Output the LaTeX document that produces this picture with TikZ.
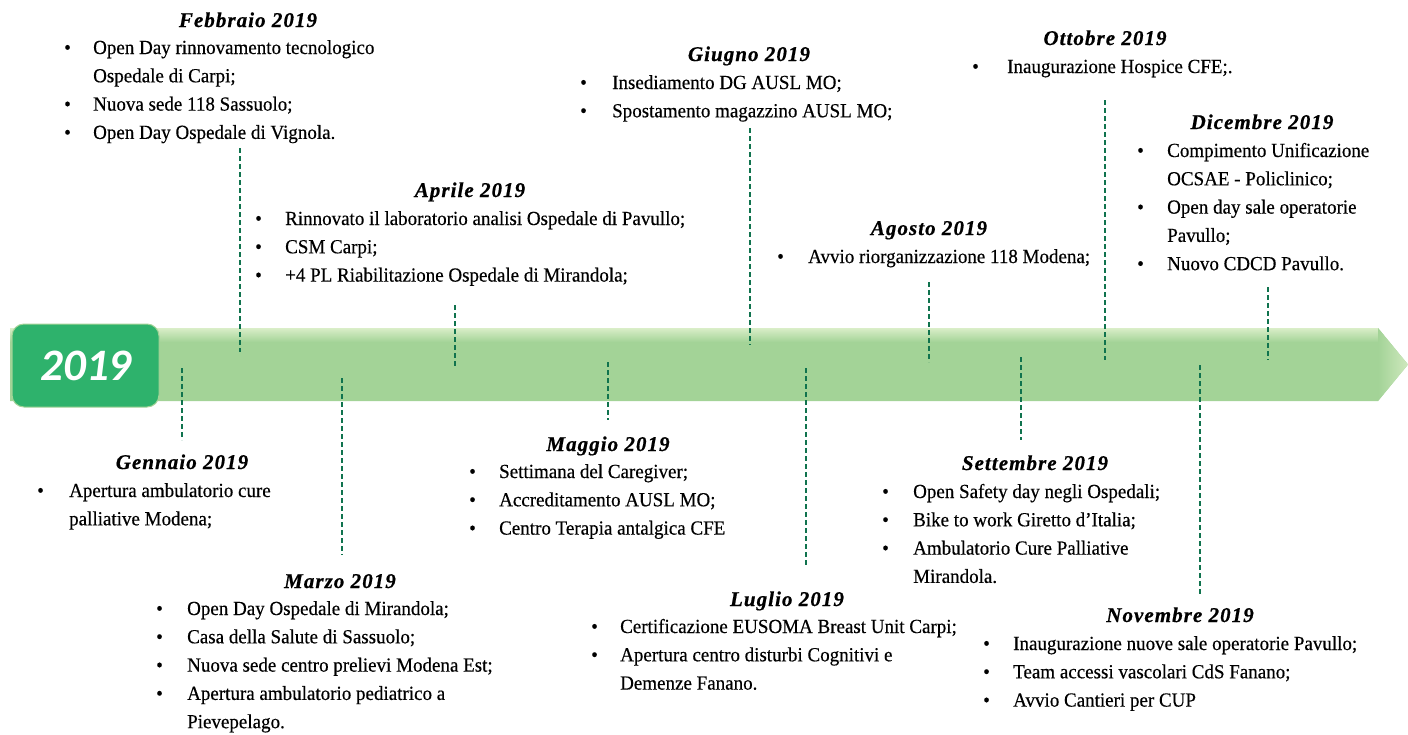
\documentclass[tikz,border=0pt]{standalone}
\usepackage{fontspec}
\setmainfont{Liberation Serif}[FakeStretch=0.95,FakeBold=0.4]
\newfontfamily\titlefont{Liberation Serif}[LetterSpace=5,FakeBold=0.6]
\newfontfamily\yearfont{Carlito}
\usepackage{array}
\definecolor{barmid}{RGB}{163,211,151}
\definecolor{bartop}{RGB}{218,238,200}
\definecolor{yearbox}{RGB}{46,178,108}
\definecolor{dashgreen}{RGB}{16,115,78}
\tikzset{
  monthtitle/.style={anchor=base, inner sep=0pt, font=\titlefont\fontsize{21}{24}\selectfont\bfseries\itshape},
  itemblock/.style={anchor=base west, inner sep=0pt, font=\fontsize{20}{28.3}\selectfont},
  tick/.style={draw=dashgreen, line width=2.4pt, dash pattern=on 5pt off 3pt},
}
\newcommand{\blist}[2]{\begin{tabular}[t]{@{}p{#1pt}@{}l@{}}#2\end{tabular}}
\begin{document}
\begin{tikzpicture}[x=1pt,y=-1pt]
\useasboundingbox (0,0) rectangle (1408,734);
% timeline bar
\fill[barmid] (10,328) -- (1378,328) -- (1408,364.5) -- (1378,401) -- (10,401) -- cycle;
\shade[top color=bartop, bottom color=barmid] (10,328) rectangle (1378,342);
\shade[left color=barmid, right color=bartop!80!barmid] (1378,328) -- (1408,364.5) -- (1378,401) -- cycle;
\node[draw=barmid, line width=1pt, fill=yearbox, rounded corners=12pt, minimum width=147pt, minimum height=83pt, inner sep=0pt] (year) at (85.5,365.5) {};
\node[text=white, font=\yearfont\fontsize{45}{50}\selectfont\bfseries\itshape] (yeartxt) at (86,366) {2019};

% ticks
\coordinate (genA) at (182,368); \coordinate (genB) at (182,440);
\coordinate (febA) at (240,148); \coordinate (febB) at (240,352);
\coordinate (marA) at (342,378); \coordinate (marB) at (342,555);
\coordinate (aprA) at (455,305); \coordinate (aprB) at (455,368);
\coordinate (magA) at (608,362); \coordinate (magB) at (608,420);
\coordinate (giuA) at (750,128); \coordinate (giuB) at (750,345);
\coordinate (lugA) at (806,368); \coordinate (lugB) at (806,565);
\coordinate (agoA) at (929,282); \coordinate (agoB) at (929,362);
\coordinate (setA) at (1021,357); \coordinate (setB) at (1021,440);
\coordinate (ottA) at (1105,100); \coordinate (ottB) at (1105,360);
\coordinate (novA) at (1200,365); \coordinate (novB) at (1200,595);
\coordinate (dicA) at (1268,287); \coordinate (dicB) at (1268,360);
\foreach \m in {gen,feb,mar,apr,mag,giu,lug,ago,set,ott,nov,dic}{
  \draw[tick] (\m A) -- (\m B);
}

% Febbraio
\node[monthtitle] (febT) at (248,27) {Febbraio 2019};
\node[itemblock] (febL) at (64,54) {\blist{29}{%
  •& Open Day rinnovamento tecnologico\\
   & Ospedale di Carpi;\\
  •& Nuova sede 118  Sassuolo;\\
  •& Open Day Ospedale di Vignola.}};
% Gennaio
\node[monthtitle] (genT) at (182,469) {Gennaio 2019};
\node[itemblock] (genL) at (37,497) {\blist{32}{%
  •& Apertura ambulatorio cure\\
   & palliative  Modena;}};
% Marzo
\node[monthtitle] (marT) at (340,588) {Marzo 2019};
\node[itemblock] (marL) at (156,615) {\blist{31}{%
  •& Open Day Ospedale di Mirandola;\\
  •& Casa della Salute di Sassuolo;\\
  •& Nuova sede centro prelievi Modena Est;\\
  •& Apertura ambulatorio pediatrico a\\
   & Pievepelago.}};
% Aprile
\node[monthtitle] (aprT) at (470,197) {Aprile 2019};
\node[itemblock] (aprL) at (255,225) {\blist{30}{%
  •& Rinnovato il laboratorio analisi Ospedale di Pavullo;\\
  •& CSM Carpi;\\
  •& +4 PL Riabilitazione Ospedale di Mirandola;}};
% Maggio
\node[monthtitle] (magT) at (608,451) {Maggio 2019};
\node[itemblock] (magL) at (469,478) {\blist{30}{%
  •& Settimana del Caregiver;\\
  •& Accreditamento AUSL MO;\\
  •& Centro Terapia antalgica CFE}};
% Giugno
\node[monthtitle] (giuT) at (749,61) {Giugno 2019};
\node[itemblock] (giuL) at (580,89) {\blist{32}{%
  •& Insediamento DG AUSL MO;\\
  •& Spostamento magazzino AUSL MO;}};
% Luglio
\node[monthtitle] (lugT) at (787,606) {Luglio 2019};
\node[itemblock] (lugL) at (591,633) {\blist{29}{%
  •& Certificazione EUSOMA Breast Unit Carpi;\\
  •& Apertura centro disturbi Cognitivi e\\
   & Demenze Fanano.}};
% Agosto
\node[monthtitle] (agoT) at (929,235) {Agosto 2019};
\node[itemblock] (agoL) at (777,263) {\blist{31}{%
  •& Avvio riorganizzazione 118 Modena;}};
% Settembre
\node[monthtitle] (setT) at (1035,470) {Settembre 2019};
\node[itemblock] (setL) at (882,498) {\blist{31}{%
  •& Open Safety day negli Ospedali;\\
  •& Bike to work Giretto d’Italia;\\
  •& Ambulatorio Cure Palliative\\
   & Mirandola.}};
% Ottobre
\node[monthtitle] (ottT) at (1105,45) {Ottobre 2019};
\node[itemblock] (ottL) at (972,73) {\blist{35}{%
  •& Inaugurazione  Hospice CFE;.}};
% Novembre
\node[monthtitle] (novT) at (1180,622) {Novembre 2019};
\node[itemblock] (novL) at (983,650) {\blist{30}{%
  •& Inaugurazione nuove sale operatorie Pavullo;\\
  •& Team accessi vascolari CdS Fanano;\\
  •& Avvio Cantieri per CUP}};
% Dicembre
\node[monthtitle] (dicT) at (1262,129) {Dicembre 2019};
\node[itemblock] (dicL) at (1137,157) {\blist{30}{%
  •& Compimento Unificazione\\
   & OCSAE  - Policlinico;\\
  •& Open day sale operatorie\\
   & Pavullo;\\
  •& Nuovo CDCD Pavullo.}};
\end{tikzpicture}
\end{document}
